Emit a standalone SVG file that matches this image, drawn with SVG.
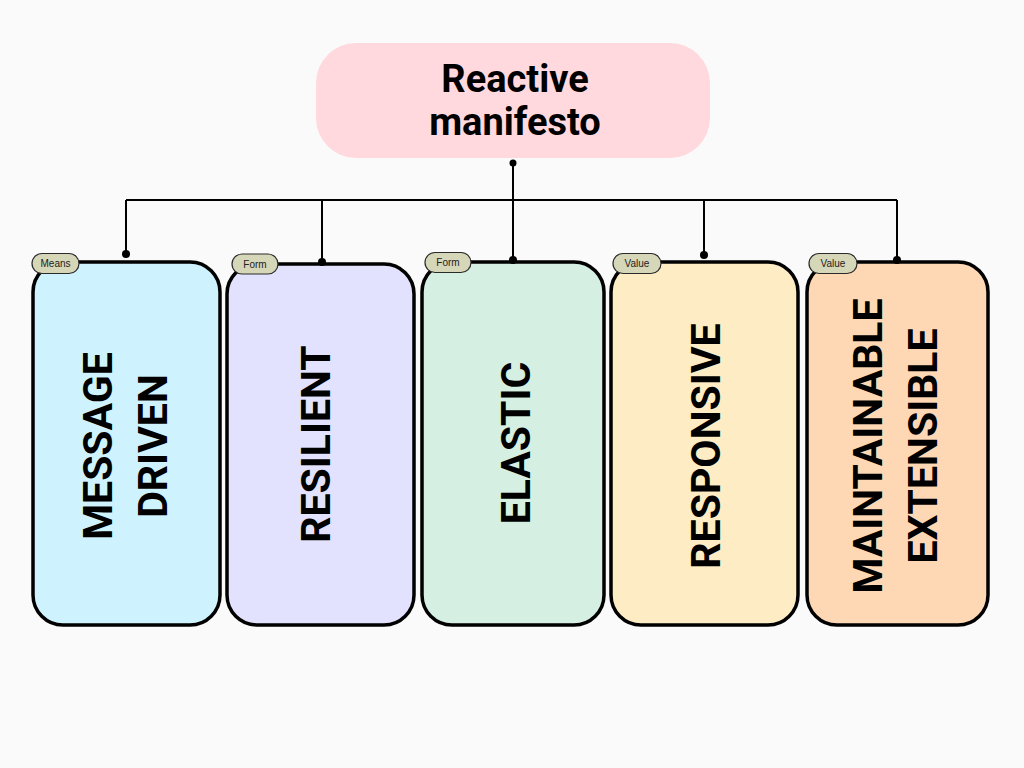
<svg xmlns="http://www.w3.org/2000/svg" width="1024" height="768" viewBox="0 0 1024 768">
<style>
.card{stroke:#000;stroke-width:3.5}
.big{font-family:Roboto,"Liberation Sans",sans-serif;font-weight:bold;font-size:41px;fill:#000;text-anchor:middle}
.title{font-family:Roboto,"Liberation Sans",sans-serif;font-weight:bold;font-size:38px;fill:#000;text-anchor:middle}
.pill{fill:#d6d6b8;stroke:#2a2a2a;stroke-width:1.2}
.tag{font-family:"Liberation Sans",Arial,sans-serif;font-size:10px;fill:#222;text-anchor:middle}
.ln{stroke:#000;stroke-width:2;fill:none}
</style>
<rect width="1024" height="768" fill="#fafafa"/>
<g id="root">
<rect x="316" y="43" width="394" height="115" rx="40" fill="#ffd9de"/>
<text class="title" x="515" y="92">Reactive</text>
<text class="title" x="515" y="135">manifesto</text>
</g>
<g id="card1">
<rect class="card" x="33" y="262" width="187" height="363" rx="30" fill="#cff3fe"/>
<text class="big" transform="translate(112,446) rotate(-90)">MESSAGE</text>
<text class="big" transform="translate(167,446) rotate(-90)">DRIVEN</text>
<rect class="pill" x="32" y="253.5" width="47" height="20" rx="10"/>
<text class="tag" x="55.5" y="267">Means</text>
</g>
<g id="card2">
<rect class="card" x="227" y="264" width="187" height="361" rx="30" fill="#e2e2fe"/>
<text class="big" transform="translate(330,444) rotate(-90)">RESILIENT</text>
<rect class="pill" x="232" y="254" width="46" height="20" rx="10"/>
<text class="tag" x="255" y="267.5">Form</text>
</g>
<g id="card3">
<rect class="card" x="422" y="262" width="182" height="363" rx="30" fill="#d5efe3"/>
<text class="big" transform="translate(530,443) rotate(-90)">ELASTIC</text>
<rect class="pill" x="425" y="252.5" width="46" height="20" rx="10"/>
<text class="tag" x="448" y="266">Form</text>
</g>
<g id="card4">
<rect class="card" x="611" y="262" width="187" height="363" rx="30" fill="#feecc5"/>
<text class="big" transform="translate(720,446) rotate(-90)">RESPONSIVE</text>
<rect class="pill" x="613" y="253.5" width="48" height="20" rx="10"/>
<text class="tag" x="637" y="267">Value</text>
</g>
<g id="card5">
<rect class="card" x="807" y="262" width="181" height="363" rx="30" fill="#fed8b4"/>
<text class="big" transform="translate(882,446) rotate(-90)">MAINTAINABLE</text>
<text class="big" transform="translate(937,446) rotate(-90)">EXTENSIBLE</text>
<rect class="pill" x="809" y="253.5" width="48" height="20" rx="10"/>
<text class="tag" x="833" y="267">Value</text>
</g>
<g id="connectors">
<path class="ln" d="M513 163V200M126 200H897M126 200V254M322 200V262M513 200V260M704 200V255M897 200V260"/>
<circle cx="513" cy="163" r="3.5"/>
<circle cx="126" cy="254" r="4"/>
<circle cx="322" cy="262" r="4"/>
<circle cx="513" cy="260" r="4"/>
<circle cx="704" cy="255" r="4"/>
<circle cx="897" cy="260" r="4"/>
</g>
</svg>
